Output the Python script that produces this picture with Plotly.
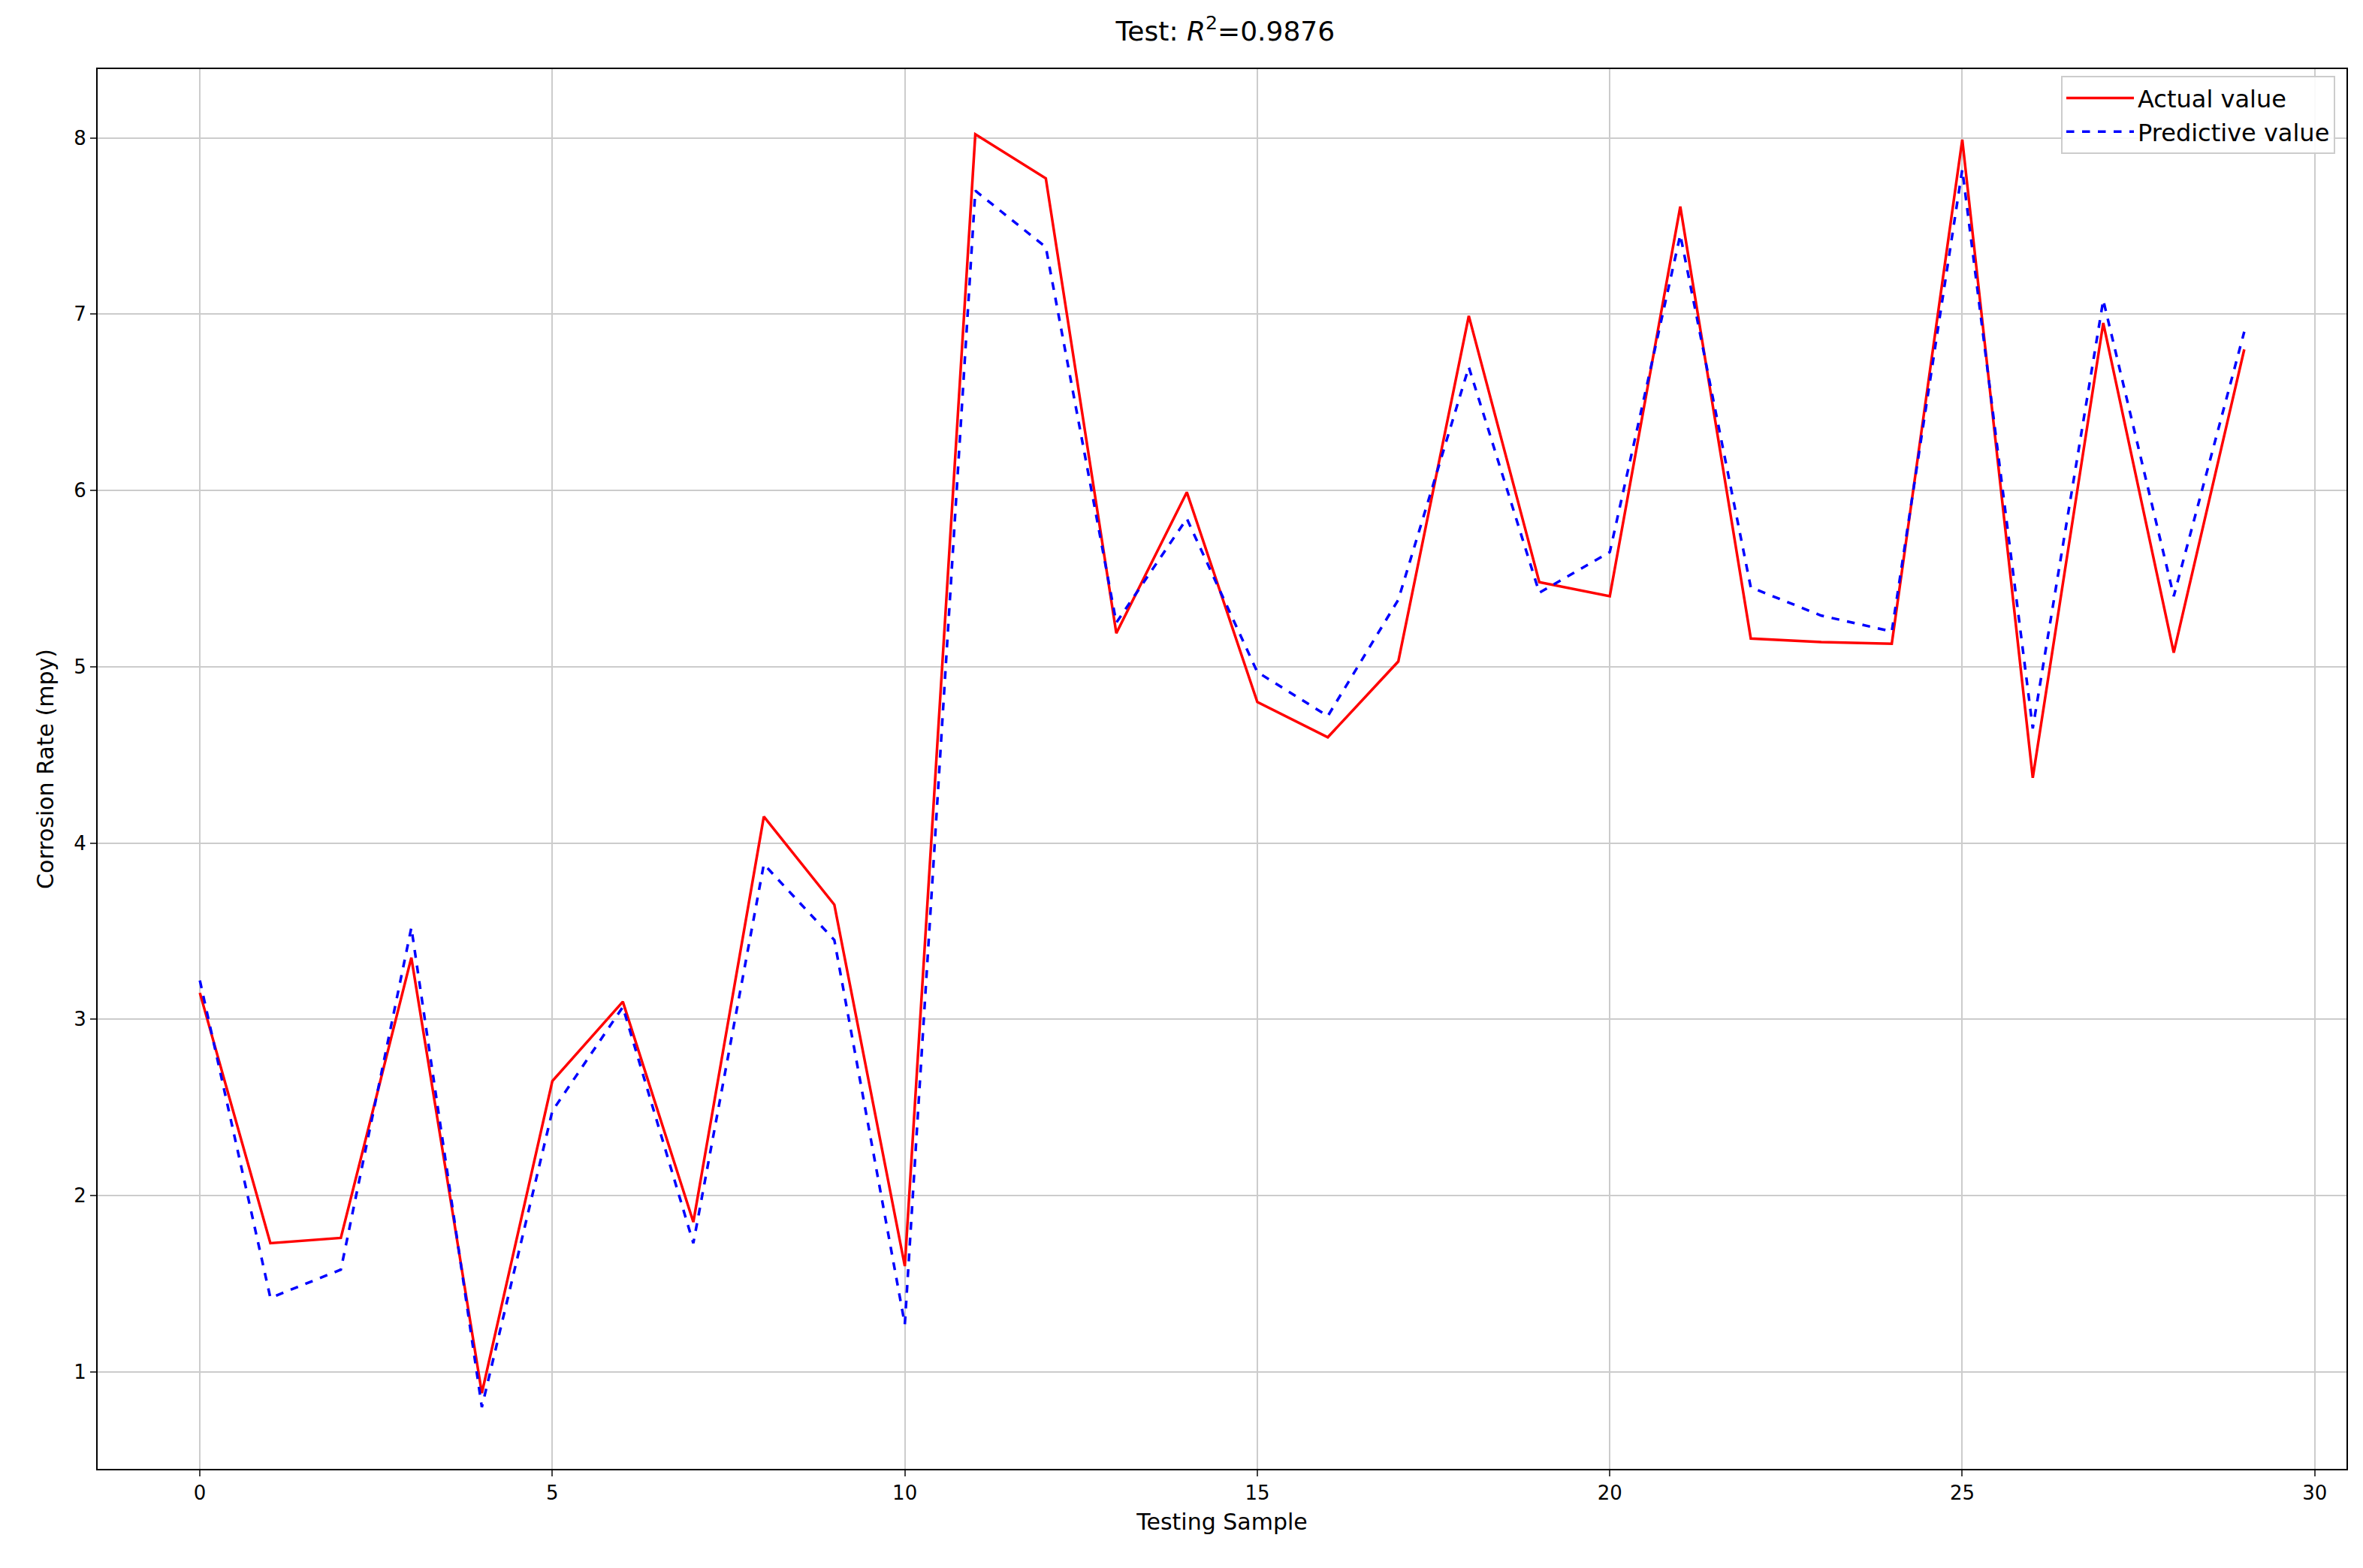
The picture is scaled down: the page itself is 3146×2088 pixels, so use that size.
import plotly.graph_objects as go

samples = list(range(30))
actual = [3.15, 1.73, 1.76, 3.35, 0.88, 2.65, 3.10, 1.85, 4.15, 3.65,
          1.60, 8.02, 7.77, 5.19, 5.99, 4.80, 4.60, 5.03, 6.99, 5.48,
          5.40, 7.61, 5.16, 5.14, 5.13, 7.99, 4.37, 6.95, 5.08, 6.80]
predicted = [3.22, 1.42, 1.58, 3.52, 0.80, 2.48, 3.07, 1.73, 3.88, 3.45,
             1.27, 7.70, 7.38, 5.25, 5.84, 4.97, 4.72, 5.38, 6.70, 5.42,
             5.65, 7.45, 5.45, 5.29, 5.20, 7.82, 4.65, 7.08, 5.40, 6.90]

fig = go.Figure()
fig.add_trace(go.Scatter(x=samples, y=actual, mode="lines", name="Actual value",
                         line=dict(color="red", width=3.5)))
fig.add_trace(go.Scatter(x=samples, y=predicted, mode="lines", name="Predictive value",
                         line=dict(color="blue", width=3.5, dash="dash")))

axis_common = dict(showgrid=True, gridcolor="#cccccc", gridwidth=2, showline=True,
                   linecolor="black", linewidth=2, mirror=True, ticks="outside",
                   ticklen=8, tickwidth=2, zeroline=False,
                   tickfont=dict(size=26, family="DejaVu Sans", color="black"))
fig.update_layout(
    width=3146, height=2088, plot_bgcolor="white", paper_bgcolor="white",
    margin=dict(l=122, r=30, t=84, b=140),
    title=dict(text="Test: <i>R</i><sup>2</sup>=0.9876", x=0.516, xanchor="center", y=0.99, yanchor="top",
               font=dict(size=36, family="DejaVu Sans", color="black")),
    font=dict(family="DejaVu Sans", color="black"),
    xaxis=dict(range=[-1.45, 30.45], tickvals=[0, 5, 10, 15, 20, 25, 30],
               title=dict(text="Testing Sample", font=dict(size=30), standoff=14), **axis_common),
    yaxis=dict(range=[0.45, 8.39], tickvals=[1, 2, 3, 4, 5, 6, 7, 8],
               title=dict(text="Corrosion Rate (mpy)", font=dict(size=30), standoff=18), **axis_common),
    legend=dict(x=0.995, y=0.995, xanchor="right", yanchor="top", bgcolor="rgba(255,255,255,0.9)",
                bordercolor="#cccccc", borderwidth=2, font=dict(size=32), itemwidth=90,
                tracegroupgap=10),
)
fig.write_html("out.html")
